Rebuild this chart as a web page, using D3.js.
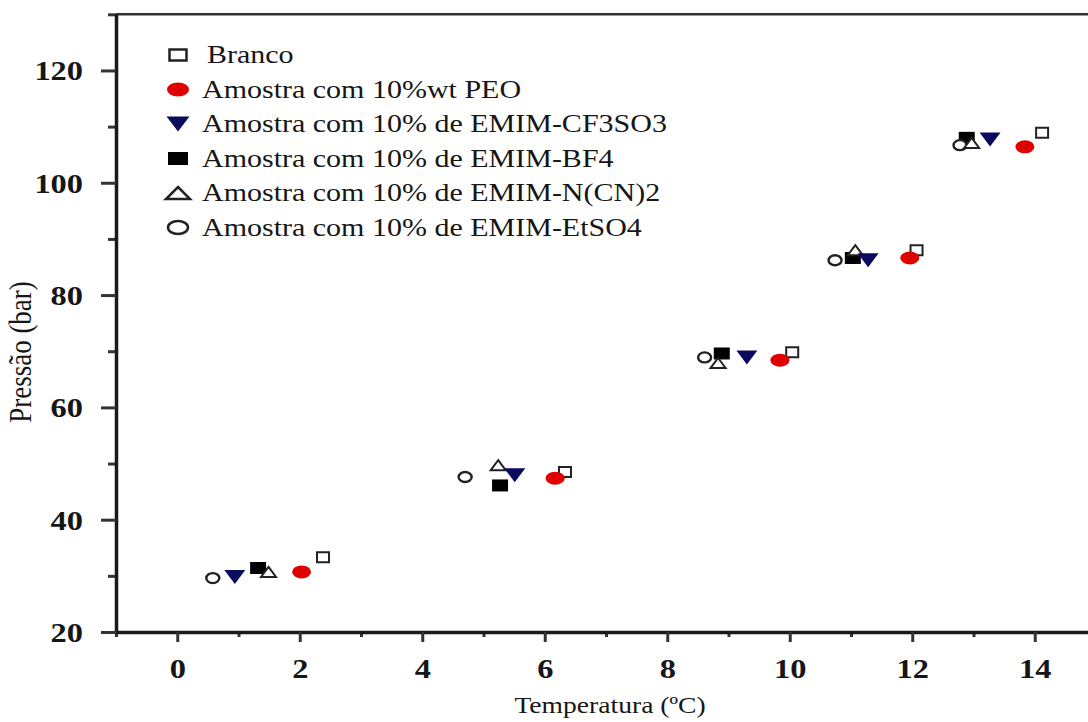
<!DOCTYPE html>
<html>
<head>
<meta charset="utf-8">
<script src="https://cdn.jsdelivr.net/npm/d3@7"></script>
<style>
  html, body { margin: 0; padding: 0; background: #fff; }
  svg { display: block; overflow: hidden; }
  text { font-family: "Liberation Serif", "Times New Roman", serif; fill: #161616; }
</style>
</head>
<body>
<div id="chart"></div>
<script>
// series names (legend order)
const seriesNames = [
  "Branco",
  "Amostra com 10%wt PEO",
  "Amostra com 10% de EMIM-CF3SO3",
  "Amostra com 10% de EMIM-BF4",
  "Amostra com 10% de EMIM-N(CN)2",
  "Amostra com 10% de EMIM-EtSO4"
];

// temperature (ºC), one array per series
const tBranco = [2.38, 6.33, 10.04, 12.07, 14.12];
const tPEO    = [2.03, 6.17, 9.84, 11.96, 13.84];
const tCF3SO3 = [0.94, 5.51, 9.30, 11.28, 13.27];
const tBF4    = [1.32, 5.27, 8.89, 11.03, 12.89];
const tNCN2   = [1.49, 5.24, 8.83, 11.07, 12.97];
const tEtSO4  = [0.58, 4.70, 8.61, 10.74, 12.78];

// pressure (bar)
const pBranco = [33.3, 48.5, 69.8, 88.0, 108.9];
const pPEO    = [30.7, 47.4, 68.4, 86.6, 106.4];
const pCF3SO3 = [29.8, 47.9, 68.9, 86.2, 107.7];
const pBF4    = [31.4, 46.1, 69.6, 86.6, 108.0];
const pNCN2   = [30.7, 49.7, 67.9, 88.0, 107.1];
const pEtSO4  = [29.6, 47.6, 68.9, 86.2, 106.7];

// axis ticks
const xMajorTicks = [0, 2, 4, 6, 8, 10, 12, 14];
const xMinorTicks = [-1, 1, 3, 5, 7, 9, 11, 13, 15];
const yMajorTicks = [20, 40, 60, 80, 100, 120];
const yMinorTicks = [30, 50, 70, 90, 110, 130];

const W = 1088, H = 722;
const SX = 1.2; // the figure is stretched sideways

const svg = d3.select("#chart").append("svg")
  .attr("width", W).attr("height", H)
  .attr("viewBox", `0 0 ${W} ${H}`);

const x = d3.scaleLinear().domain([-1, 15]).range([116, 1096]);
const y = d3.scaleLinear().domain([20, 130]).range([632, 14.3]);

// marker outlines, width w by height h
function shapePath(kind, w, h) {
  const a = w / 2, b = h / 2;
  if (kind === "square") return `M${-a},${-b}H${a}V${b}H${-a}Z`;
  if (kind === "circle") return `M${-a},0A${a},${b} 0 1,0 ${a},0A${a},${b} 0 1,0 ${-a},0Z`;
  if (kind === "triDown") return `M${-a},${-b}H${a}L0,${b}Z`;
  return `M0,${-b}L${a},${b}H${-a}Z`;
}

const styles = [
  {shape: "square",  fill: "#fff",    stroke: "#222", sw: 2,   size: [12, 10], lsize: [17, 11]},
  {shape: "circle",  fill: "#e00000", stroke: "none", sw: 0,   size: [19, 13], lsize: [22, 14]},
  {shape: "triDown", fill: "#0b0b5e", stroke: "none", sw: 0,   size: [21, 14], lsize: [23, 15]},
  {shape: "square",  fill: "#000",    stroke: "none", sw: 0,   size: [16, 12], lsize: [20, 13]},
  {shape: "triUp",   fill: "#fff",    stroke: "#222", sw: 2,   size: [15, 10], lsize: [24, 12]},
  {shape: "circle",  fill: "#fff",    stroke: "#222", sw: 2.4, size: [13, 10], lsize: [20, 13]}
];

const temps = [tBranco, tPEO, tCF3SO3, tBF4, tNCN2, tEtSO4];
const press = [pBranco, pPEO, pCF3SO3, pBF4, pNCN2, pEtSO4];

const series = seriesNames.map((name, i) => ({
  name, style: styles[i],
  points: temps[i].map((t, j) => ({t, p: press[i][j]}))
}));

// top frame line
svg.append("line")
  .attr("x1", x(-1)).attr("x2", x(15))
  .attr("y1", y(130)).attr("y2", y(130))
  .attr("stroke", "#333").attr("stroke-width", 2.5);

// y axis
const yMinor = svg.append("g").attr("transform", `translate(${x(-1)},0)`)
  .call(d3.axisLeft(y).tickValues(yMinorTicks).tickSize(8).tickFormat(""));
const yMajor = svg.append("g").attr("transform", `translate(${x(-1)},0)`)
  .call(d3.axisLeft(y).tickValues(yMajorTicks).tickSize(15).tickSizeOuter(0));

// x axis
const xMinor = svg.append("g").attr("transform", `translate(0,${y(20)})`)
  .call(d3.axisBottom(x).tickValues(xMinorTicks).tickSize(5).tickFormat(""));
const xMajor = svg.append("g").attr("transform", `translate(0,${y(20)})`)
  .call(d3.axisBottom(x).tickValues(xMajorTicks).tickSize(10).tickSizeOuter(0));

[yMinor, yMajor, xMinor, xMajor].forEach(g => {
  g.selectAll("path.domain").attr("stroke", "#1a1a1a").attr("stroke-width", 3.5);
  g.selectAll(".tick line").attr("stroke", "#333").attr("stroke-width", 3);
});
yMinor.select("path.domain").remove();
xMinor.select("path.domain").remove();

yMajor.selectAll(".tick text")
  .attr("x", 0).attr("dy", "0.35em")
  .attr("transform", `translate(-33,0) scale(${SX},1)`)
  .attr("text-anchor", "end")
  .style("font-size", "27px").style("font-weight", "bold")
  .style("font-family", "'Liberation Serif', serif").attr("fill", "#161616");

xMajor.selectAll(".tick text")
  .attr("y", 0).attr("dy", 0)
  .attr("transform", `translate(0,46) scale(${SX},1)`)
  .attr("text-anchor", "middle")
  .style("font-size", "27px").style("font-weight", "bold")
  .style("font-family", "'Liberation Serif', serif").attr("fill", "#161616");

// axis titles
svg.append("text")
  .attr("transform", `translate(610,713) scale(${SX},1)`)
  .attr("text-anchor", "middle")
  .style("font-size", "23px")
  .text("Temperatura (ºC)");

svg.append("text")
  .attr("transform", `translate(31,352) scale(${SX},1) rotate(-90)`)
  .attr("text-anchor", "middle")
  .style("font-size", "27px")
  .text("Pressão (bar)");

// points: drawing order so overlaps look like the figure
const drawOrder = [0, 3, 5, 4, 2, 1];
drawOrder.forEach(i => {
  const s = series[i];
  svg.append("g").selectAll("path")
    .data(s.points)
    .join("path")
    .attr("transform", d => `translate(${x(d.t)},${y(d.p)})`)
    .attr("d", shapePath(s.style.shape, s.style.size[0], s.style.size[1]))
    .attr("fill", s.style.fill)
    .attr("stroke", s.style.stroke)
    .attr("stroke-width", s.style.sw);
});

// legend
const legend = svg.append("g");
series.forEach((s, i) => {
  const by = 63 + i * 34.5;
  legend.append("path")
    .attr("transform", `translate(178,${by - 8})`)
    .attr("d", shapePath(s.style.shape, s.style.lsize[0], s.style.lsize[1]))
    .attr("fill", s.style.fill)
    .attr("stroke", s.style.stroke)
    .attr("stroke-width", s.style.sw ? 2.5 : 0);
  legend.append("text")
    .attr("transform", `translate(${i === 0 ? 207 : 202},${by}) scale(${SX},1)`)
    .style("font-size", "25px")
    .text(s.name);
});
</script>
</body>
</html>
